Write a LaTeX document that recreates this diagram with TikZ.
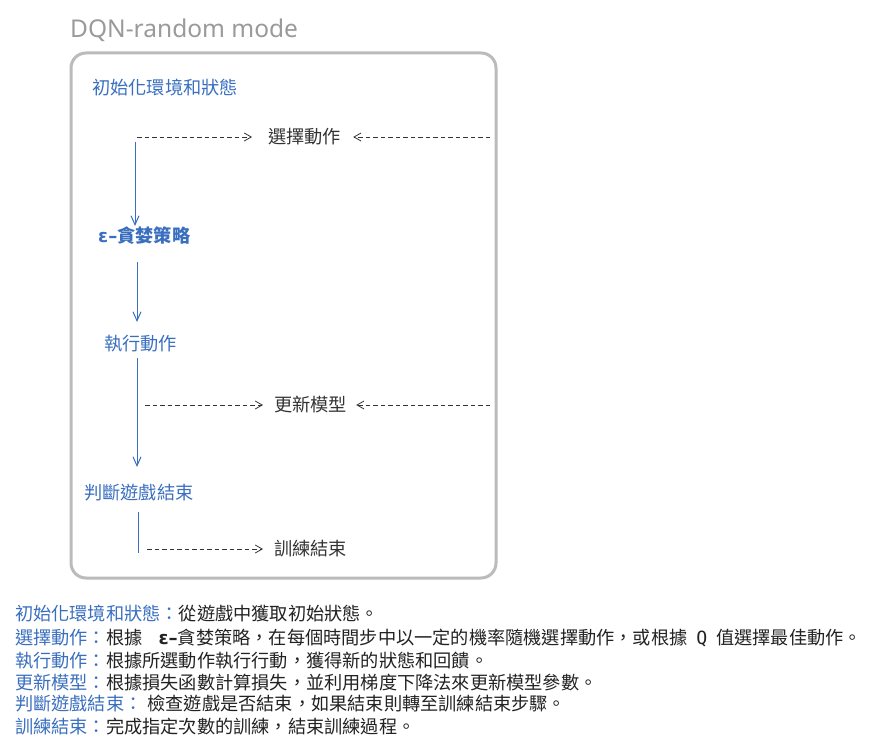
\documentclass[tikz,border=0pt]{standalone}
\usepackage{fontspec}
\setmainfont{Noto Sans CJK TC}
\newfontfamily\latinfont{Noto Sans}
\newfontfamily\epsfont{DejaVu Sans}
\newfontfamily\qfont{DejaVu Sans Mono}
\usetikzlibrary{arrows.meta}
\definecolor{flowblue}{HTML}{3A6FBF}
\definecolor{labelgray}{HTML}{333333}
\definecolor{framegray}{HTML}{BBBBBB}
\definecolor{titlegray}{HTML}{9A9A9A}
\definecolor{desctext}{HTML}{222222}
\tikzset{
  lbl/.style={anchor=west, inner sep=0pt, font=\fontsize{18.2}{20}\selectfont},
  bluelbl/.style={lbl, text=flowblue},
  graylbl/.style={lbl, text=labelgray},
  desc/.style={anchor=west, inner sep=0pt, font=\fontsize{18.2}{20}\selectfont, text=desctext},
  flow/.style={draw=flowblue, line width=1pt, -{Straight Barb[length=9pt,width=8pt,line width=1pt]}},
  flowplain/.style={draw=flowblue, line width=1pt},
  dashflow/.style={draw=labelgray, line width=0.8pt, dash pattern=on 4.5pt off 3pt, -{Straight Barb[length=7pt,width=8pt,line width=0.8pt]}},
  frame/.style={draw=framegray, line width=3pt, rounded corners=15pt}
}
\begin{document}
\begin{tikzpicture}[x=1pt,y=-1pt]
\useasboundingbox (0,0) rectangle (870,746);
\node[anchor=west, inner sep=0pt, text=titlegray, font=\latinfont\fontsize{24.5}{28}\selectfont] (title) at (70,30) {DQN-random mode};
\draw[frame] (71,53) rectangle (496,578);

\node[bluelbl] (init) at (92,88) {初始化環境和狀態};
\node[graylbl] (select) at (268,137) {選擇動作};
\node[bluelbl, font=\fontsize{18.2}{20}\selectfont\bfseries] (eps) at (98,236) {{\epsfont\bfseries ε–}貪婪策略};
\node[bluelbl] (exec) at (104,344) {執行動作};
\node[graylbl] (update) at (274,405) {更新模型};
\node[bluelbl] (judge) at (84,493) {判斷遊戲結束};
\node[graylbl] (done) at (274,549) {訓練結束};

\coordinate (d1s) at (137,137);
\coordinate (d1r) at (490,137);
\coordinate (b1s) at (135,142);
\coordinate (b1e) at (135,226);
\coordinate (b2s) at (137,262);
\coordinate (b2e) at (137,322);
\coordinate (b3s) at (137,358);
\coordinate (b3e) at (137,467);
\coordinate (d2s) at (145,405);
\coordinate (d2r) at (490,405);
\coordinate (b4s) at (138,512);
\coordinate (b4e) at (138,553);
\coordinate (d3s) at (147,549);

\draw[dashflow] (d1s) -- ([xshift=-16pt]select.west);
\draw[dashflow] (d1r) -- ([xshift=12pt]select.east);
\draw[flow] (b1s) -- (b1e);
\draw[flow] (b2s) -- (b2e);
\draw[flow] (b3s) -- (b3e);
\draw[dashflow] (d2s) -- ([xshift=-11pt]update.west);
\draw[dashflow] (d2r) -- ([xshift=9pt]update.east);
\draw[flowplain] (b4s) -- (b4e);
\draw[dashflow] (d3s) -- ([xshift=-11pt]done.west);

\node[desc] (t1) at (15,614) {\textcolor{flowblue}{初始化環境和狀態：}從遊戲中獲取初始狀態。};
\node[desc] (t2) at (15,638) {\textcolor{flowblue}{選擇動作：}根據\hspace{16pt}{\epsfont\bfseries ε–}貪婪策略，在每個時間步中以一定的機率隨機選擇動作，或根據\hspace{9pt}{\qfont Q}\hspace{9pt}值選擇最佳動作。};
\node[desc] (t3) at (15,661) {\textcolor{flowblue}{執行動作：}根據所選動作執行行動，獲得新的狀態和回饋。};
\node[desc] (t4) at (15,683) {\textcolor{flowblue}{更新模型：}根據損失函數計算損失，並利用梯度下降法來更新模型參數。};
\node[desc] (t5) at (15,704) {\textcolor{flowblue}{判斷遊戲結束：}\hspace{5pt}檢查遊戲是否結束，如果結束則轉至訓練結束步驟。};
\node[desc] (t6) at (15,727) {\textcolor{flowblue}{訓練結束：}完成指定次數的訓練，結束訓練過程。};
\end{tikzpicture}
\end{document}
